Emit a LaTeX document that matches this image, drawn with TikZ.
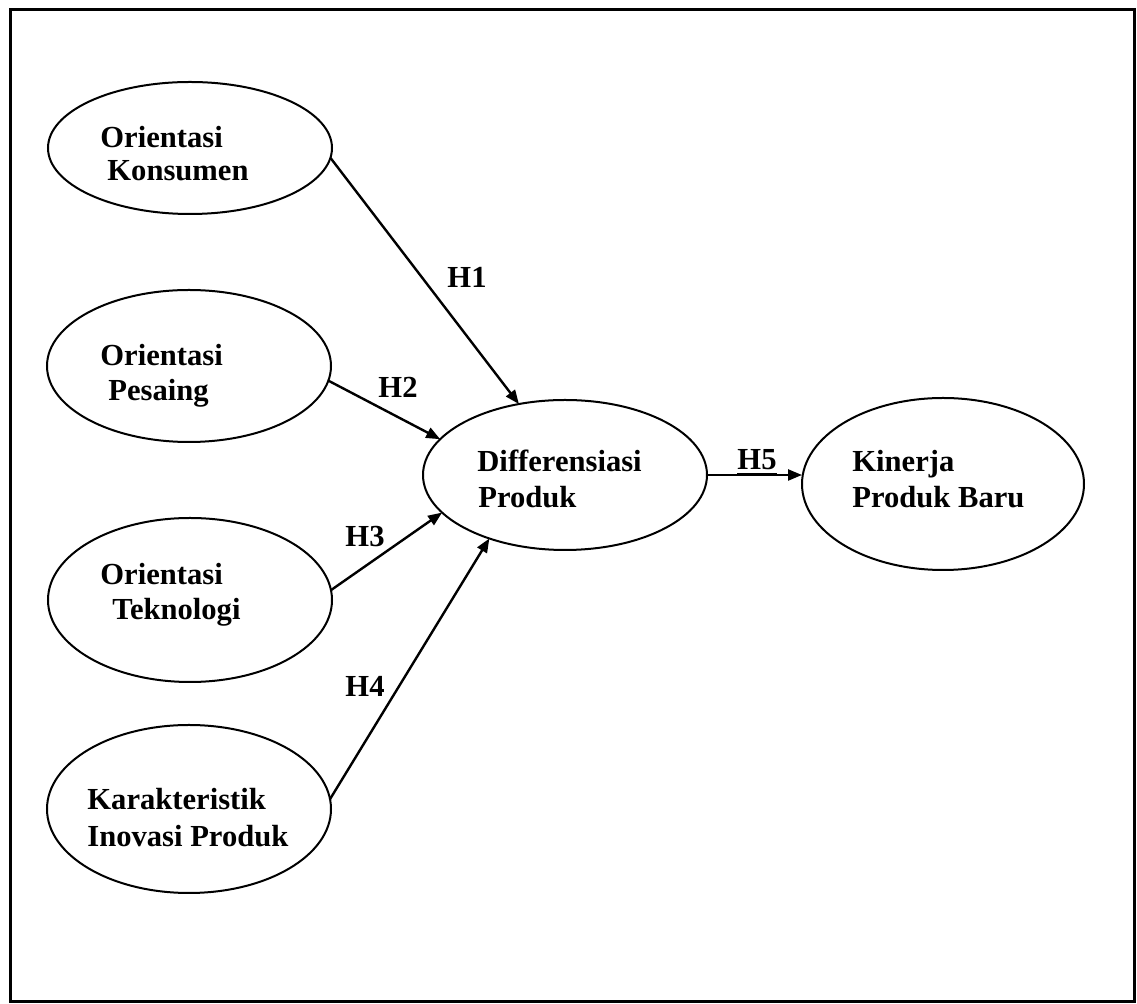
\documentclass[tikz,border=0pt]{standalone}
\usepackage{fontspec}
\setmainfont{Liberation Serif}
\usetikzlibrary{shapes.geometric,arrows.meta}
\begin{document}
\begin{tikzpicture}[x=0.5pt,y=-0.5pt,
  oval/.style={ellipse,draw,line width=1pt,inner sep=0pt,outer sep=0pt},
  txt/.style={anchor=base west,inner sep=0pt,font=\fontsize{15.3}{17}\selectfont\bfseries},
  hlab/.style={anchor=base,inner sep=0pt,font=\fontsize{15.3}{17}\selectfont\bfseries},
  conn/.style={line width=1.2pt,-{Triangle[length=7pt,width=5.5pt]}}]
\useasboundingbox (0,0) rectangle (1137,1004);
\draw[line width=1.5pt] (10,10) rectangle (1134,1002);

% ellipses
\node[oval,minimum width=142pt,minimum height=66pt] (e1) at (190,148) {};
\node[oval,minimum width=142pt,minimum height=76pt] (e2) at (189,366) {};
\node[oval,minimum width=142pt,minimum height=82pt] (e3) at (190,600) {};
\node[oval,minimum width=142pt,minimum height=84pt] (e4) at (189,809) {};
\node[oval,minimum width=142pt,minimum height=75pt] (d) at (565,475) {};
\node[oval,minimum width=141pt,minimum height=86pt] (k) at (943,484) {};

% texts
\node[txt] (t1a) at (100,148) {Orientasi};
\node[txt] (t1b) at (107,181) {Konsumen};
\node[txt] (t2a) at (100,366) {Orientasi};
\node[txt] (t2b) at (108,401) {Pesaing};
\node[txt] (t3a) at (100,585) {Orientasi};
\node[txt] (t3b) at (112,620) {Teknologi};
\node[txt] (t4a) at (87,810) {Karakteristik};
\node[txt] (t4b) at (87,847) {Inovasi Produk};
\node[txt] (tda) at (477,472) {Differensiasi};
\node[txt] (tdb) at (478,508) {Produk};
\node[txt] (tka) at (852,472) {Kinerja};
\node[txt] (tkb) at (852,508) {Produk Baru};

% connectors
\draw[conn] (e1.-4) -- (d.123.3);
\draw[conn] (e2.-6.9) -- (d.164);
\draw[conn] (e3.4) -- (d.197.3);
\draw[conn] (e4.4.5) -- (d.220.9);
\draw[conn] (d.east) -- (d.east -| k.west);

% labels
\node[hlab] (h1) at (467,288) {H1};
\node[hlab] (h2) at (398,398) {H2};
\node[hlab] (h3) at (365,547) {H3};
\node[hlab] (h4) at (365,697) {H4};
\node[hlab] (h5) at (757,470) {\underline{H5}};
\end{tikzpicture}
\end{document}
